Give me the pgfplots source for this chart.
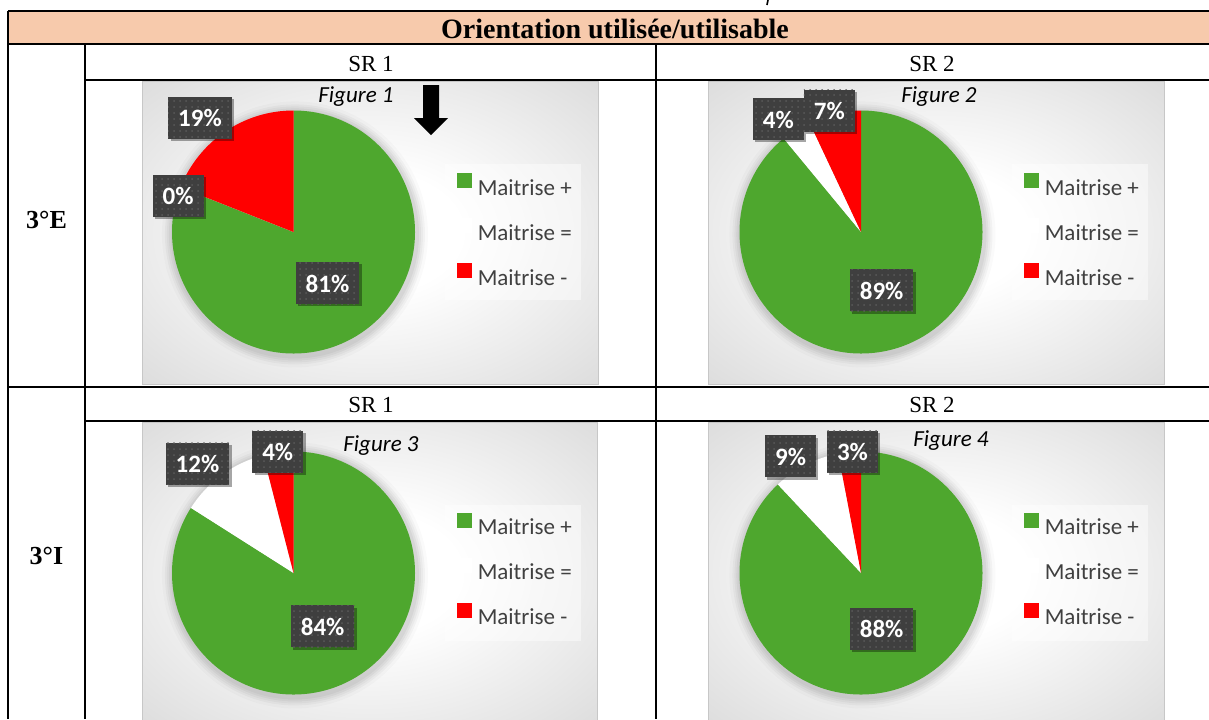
\documentclass[border=0pt]{standalone}
\usepackage{pgfplots}
\pgfplotsset{compat=1.18}
\usepackage{fontspec}
\setmainfont{Liberation Serif}
\newfontfamily\carlito{Carlito}
\usetikzlibrary{patterns,shadows}
\definecolor{mgreen}{HTML}{4EA72E}
\definecolor{mred}{HTML}{FF0000}
\definecolor{hdr}{HTML}{F7CAAC}
\definecolor{lblgray}{HTML}{3F3F3F}
\definecolor{dotgray}{HTML}{5A5A5A}
\definecolor{leggray}{HTML}{404040}
\pgfdeclareradialshading{chartbg}{\pgfpoint{0bp}{0bp}}{color(0bp)=(white); color(10bp)=(white); color(50bp)=(black!21); color(71bp)=(black!30)}
\newcommand\R{60.75pt}
\pgfplotsset{
  pieaxis/.style={
    scale only axis, width=121.5pt, height=121.5pt,
    xmin=-1, xmax=1, ymin=-1, ymax=1, hide axis, anchor=center, clip=false,
    legend cell align=left,
    legend image code/.code={\fill[##1] (0pt,0pt) rectangle (7pt,7pt);},
    legend style={draw=none, fill=none, inner sep=0pt, outer sep=0pt,
      row sep=11.5pt, column sep=3pt, anchor=north west,
      font=\carlito\fontsize{11.5}{13}\selectfont, text=leggray,
      nodes={inner sep=0pt, text height=7.5pt, text depth=0pt}},
  },
}
\tikzset{lbl/.style={fill=lblgray, text=white,
  font=\carlito\bfseries\fontsize{12.5}{15}\selectfont,
  inner xsep=5pt, inner ysep=0pt, minimum height=21pt, text height=9pt, text depth=0pt,
  drop shadow={shadow xshift=1.2pt, shadow yshift=-1.2pt, opacity=0.35, fill=black},
  postaction={pattern=dots, pattern color=dotgray}}}
% #1 = Maitrise +, #2 = Maitrise =, #3 = Maitrise - (percent)
\newcommand\pie[3]{%
  \fill[black, opacity=0.04] (0.012,-0.02) circle[radius=62pt];
  \fill[black, opacity=0.04] (0.012,-0.02) circle[radius=63pt];
  \fill[black, opacity=0.03] (0.012,-0.02) circle[radius=64pt];
  \fill[black, opacity=0.03] (0.012,-0.02) circle[radius=65pt];
  \fill[black, opacity=0.02] (0.012,-0.02) circle[radius=66.5pt];
  \fill[mgreen] (0,0) -- ++(90:\R) arc[start angle=90, end angle={90-3.6*#1}, radius=\R] -- cycle;
  \fill[white] (0,0) -- ++({90-3.6*#1}:\R) arc[start angle={90-3.6*#1}, end angle={90-3.6*(#1+#2)}, radius=\R] -- cycle;
  \fill[mred] (0,0) -- ++({90-3.6*(#1+#2)}:\R) arc[start angle={90-3.6*(#1+#2)}, end angle={90-3.6*(#1+#2+#3)}, radius=\R] -- cycle;
  \addlegendimage{mgreen}\addlegendentry{Maitrise +}
  \addlegendimage{white}\addlegendentry{Maitrise =}
  \addlegendimage{mred}\addlegendentry{Maitrise -}
}
\begin{document}
\begin{tikzpicture}[x=0.5pt,y=-0.5pt]
\path[use as bounding box, clip] (0,0) rectangle (1209,719);
\fill[white] (0,0) rectangle (1209,719);
% header
\fill[hdr] (8,11) rectangle (1209,44);
% chart areas
\foreach \a/\b/\c/\d in {142/81/598/384, 708/81/1164/384, 142/422/597/725, 708/422/1164/725}{
  \shade[shading=chartbg] (\a,\b) rectangle (\c,\d);
  \draw[black!22, line width=0.5pt] (\a,\b) rectangle (\c,\d);
}
% legend backgrounds
\fill[white, opacity=0.45] (445,164) rectangle (581,300);
\fill[white, opacity=0.45] (1012,164) rectangle (1148,300);
\fill[white, opacity=0.45] (445,505) rectangle (581,641);
\fill[white, opacity=0.45] (1012,505) rectangle (1148,641);
% arrow
\fill[black] (423,85) -- (439,85) -- (439,118) -- (448,118) -- (431,135) -- (414,118) -- (423,118) -- cycle;
\draw[line width=0.8pt] (768,0) -- (767,5);

% Figure 1
\begin{axis}[pieaxis, at={(146.75pt,-116pt)}, legend style={at={(axis description cs:1.1728,0.741)}}]
  \pie{81}{0}{19}
  \node[lbl] at (-0.77,0.94) {19\%};
  \node[lbl] at (-0.95,0.30) {0\%};
  \node[lbl] at (0.28,-0.42) {81\%};
\end{axis}
% Figure 2
\begin{axis}[pieaxis, at={(430.5pt,-116pt)}, legend style={at={(axis description cs:1.1708,0.741)}}]
  \pie{89}{4}{7}
  \node[lbl] at (-0.68,0.93) {4\%};
  \node[lbl] at (-0.26,1.00) {7\%};
  \node[lbl] at (0.17,-0.48) {89\%};
\end{axis}
% Figure 3
\begin{axis}[pieaxis, at={(146.75pt,-286.5pt)}, legend style={at={(axis description cs:1.1728,0.747)}}]
  \pie{84}{12}{4}
  \node[lbl] at (-0.79,0.90) {12\%};
  \node[lbl] at (-0.13,1.00) {4\%};
  \node[lbl] at (0.24,-0.44) {84\%};
\end{axis}
% Figure 4
\begin{axis}[pieaxis, at={(430.5pt,-286.5pt)}, legend style={at={(axis description cs:1.1708,0.747)}}]
  \pie{88}{9}{3}
  \node[lbl] at (-0.58,0.96) {9\%};
  \node[lbl] at (-0.07,1.00) {3\%};
  \node[lbl] at (0.17,-0.46) {88\%};
\end{axis}

% figure titles
\node[font=\carlito\itshape\fontsize{11.5}{13}\selectfont] at (356,97) {Figure 1};
\node[font=\carlito\itshape\fontsize{11.5}{13}\selectfont] at (939,97) {Figure 2};
\node[font=\carlito\itshape\fontsize{11.5}{13}\selectfont] at (381,446) {Figure 3};
\node[font=\carlito\itshape\fontsize{11.5}{13}\selectfont] at (951,441) {Figure 4};

% table lines
\begin{scope}[line width=1pt]
\draw (8,11) -- (1209,11);
\draw (8,44) -- (1209,44);
\draw (85,80) -- (1209,80);
\draw (8,387) -- (1209,387);
\draw (85,421) -- (1209,421);
\draw (8,11) -- (8,719);
\draw (85,44) -- (85,719);
\draw (656,44) -- (656,719);
\end{scope}
% table text
\node[font=\bfseries\fontsize{14}{16}\selectfont] at (615,29) {Orientation utilisée/utilisable};
\node[font=\fontsize{11.5}{14}\selectfont] at (371,64) {SR 1};
\node[font=\fontsize{11.5}{14}\selectfont] at (932,64) {SR 2};
\node[font=\fontsize{11.5}{14}\selectfont] at (371,405) {SR 1};
\node[font=\fontsize{11.5}{14}\selectfont] at (932,405) {SR 2};
\node[font=\bfseries\fontsize{13}{15}\selectfont] at (46.5,220) {3°E};
\node[font=\bfseries\fontsize{13}{15}\selectfont] at (46.5,556) {3°I};
\end{tikzpicture}
\end{document}
